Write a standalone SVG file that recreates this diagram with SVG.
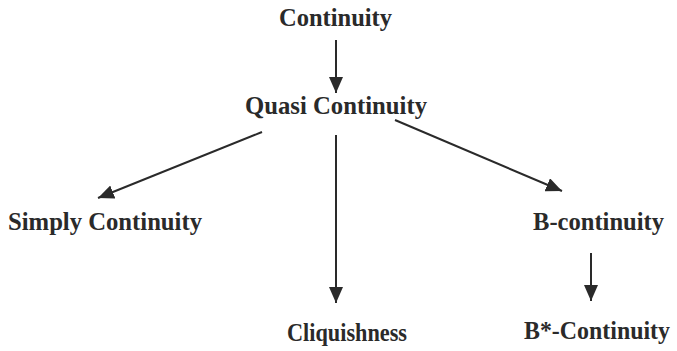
<svg xmlns="http://www.w3.org/2000/svg" width="677" height="351" viewBox="0 0 677 351">
<style>
.t{font-family:"Liberation Serif","Times New Roman",serif;font-weight:bold;font-size:26px;fill:#2a2a2a}
.c{stroke:#2a2a2a;stroke-width:2;fill:none}
</style>
<defs>
<marker id="ah" markerWidth="16" markerHeight="14" refX="16" refY="7" orient="auto" markerUnits="userSpaceOnUse">
<path d="M0,0 L16,7 L0,14 Z" fill="#2a2a2a"/>
</marker>
</defs>
<rect width="677" height="351" fill="#fff"/>
<g id="connectors">
<line class="c" x1="336" y1="40" x2="336" y2="93" marker-end="url(#ah)"/>
<line class="c" x1="262" y1="132" x2="98" y2="198" marker-end="url(#ah)"/>
<line class="c" x1="395" y1="120" x2="562" y2="191" marker-end="url(#ah)"/>
<line class="c" x1="336" y1="135" x2="336" y2="303" marker-end="url(#ah)"/>
<line class="c" x1="591" y1="253" x2="591" y2="301" marker-end="url(#ah)"/>
</g>
<g id="n1"><text class="t" x="279" y="26" textLength="113" lengthAdjust="spacingAndGlyphs">Continuity</text></g>
<g id="n2"><text class="t" x="245" y="114" textLength="182" lengthAdjust="spacingAndGlyphs">Quasi Continuity</text></g>
<g id="n3"><text class="t" x="8" y="230" textLength="194" lengthAdjust="spacingAndGlyphs">Simply Continuity</text></g>
<g id="n4"><text class="t" x="533" y="230" textLength="131" lengthAdjust="spacingAndGlyphs">B-continuity</text></g>
<g id="n5"><text class="t" x="287" y="341" textLength="120" lengthAdjust="spacingAndGlyphs">Cliquishness</text></g>
<g id="n6"><text class="t" x="524" y="339" style="font-size:24.5px" textLength="146" lengthAdjust="spacingAndGlyphs">B*-Continuity</text></g>
</svg>
